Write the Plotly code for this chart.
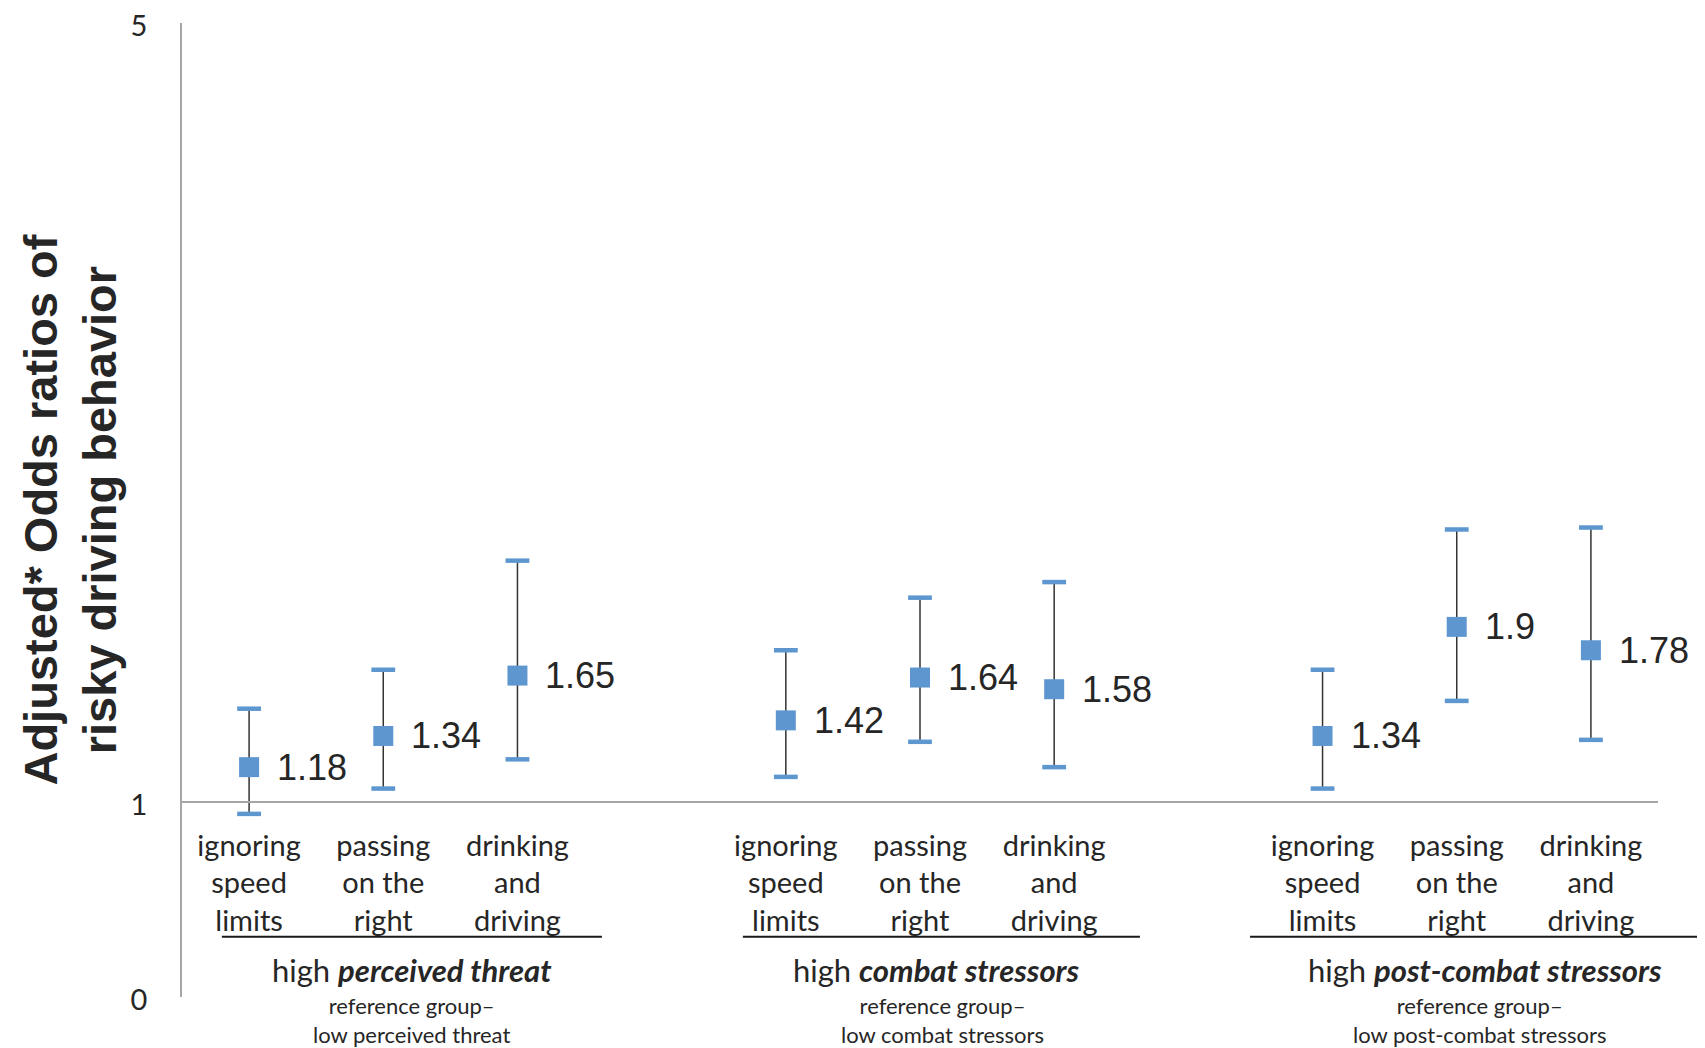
import plotly.graph_objects as go

# ---- data ----
groups = ["perceived threat", "combat stressors", "post-combat stressors"]
behaviors = ["ignoring<br>speed<br>limits", "passing<br>on the<br>right", "drinking<br>and<br>driving"]
odds = [1.18, 1.34, 1.65, 1.42, 1.64, 1.58, 1.34, 1.9, 1.78]
ci_low = [0.94, 1.07, 1.22, 1.13, 1.31, 1.18, 1.07, 1.52, 1.32]
ci_high = [1.48, 1.68, 2.24, 1.78, 2.05, 2.13, 1.68, 2.40, 2.41]
y_ticks = [0, 1, 5]
y_title_lines = ["Adjusted* Odds ratios of", "risky driving behavior"]

BLUE = "#5E97D0"
TXT = "#262626"
CAT_FONT = "Lato"

# category positions: three per group with an empty slot between groups
xpos = [g * 4 + i for g in range(len(groups)) for i in range(len(behaviors))]
ticktext = [b for g in groups for b in behaviors]
err_plus = [h - v for h, v in zip(ci_high, odds)]
err_minus = [v - l for v, l in zip(odds, ci_low)]

fig = go.Figure()
# stems + markers
fig.add_trace(go.Scatter(
    x=xpos, y=odds, mode="markers",
    marker=dict(symbol="square", size=20, color=BLUE),
    error_y=dict(type="data", array=err_plus, arrayminus=err_minus,
                 color="#333333", thickness=1.5, width=0),
    showlegend=False, hoverinfo="skip"))
# caps
fig.add_trace(go.Scatter(
    x=xpos + xpos, y=ci_high + ci_low, mode="markers",
    marker=dict(symbol="line-ew", size=17, line=dict(color=BLUE, width=4.5)),
    showlegend=False, hoverinfo="skip"))

# value labels
for x, v in zip(xpos, odds):
    fig.add_annotation(x=x, y=v, text=str(v), showarrow=False, xanchor="left",
                       xshift=26, font=dict(family="Liberation Sans", size=36, color=TXT))

# group underline / titles (paper coords)
underline_x = [(0.027, 0.2845), (0.380, 0.649), (0.7236, 1.04)]
title_x = [0.1558, 0.5115, 0.8828]
sub_x = [0.1558, 0.515, 0.879]
for g, name in enumerate(groups):
    x0, x1 = underline_x[g]
    fig.add_shape(type="line", xref="paper", yref="paper", x0=x0, x1=x1,
                  y0=0.0619, y1=0.0619, line=dict(color="#1a1a1a", width=2))
    fig.add_annotation(xref="paper", yref="paper", x=title_x[g], y=0.0277,
                       text="high <b><i>" + name + "</i></b>", showarrow=False,
                       xanchor="center", yanchor="middle",
                       font=dict(family=CAT_FONT, size=31, color=TXT))
    fig.add_annotation(xref="paper", yref="paper", x=sub_x[g], y=-0.024,
                       text="reference group–<br>low " + name, showarrow=False,
                       xanchor="center", yanchor="middle",
                       font=dict(family=CAT_FONT, size=22, color=TXT))

# y title (two rotated lines)
for line, xp in zip(y_title_lines, [-0.0965, -0.056]):
    fig.add_annotation(xref="paper", yref="paper", x=xp, y=0.5,
                       text="<b>" + line + "</b>",
                       textangle=-90, showarrow=False, xanchor="center", yanchor="middle",
                       font=dict(family="Liberation Sans", size=47, color=TXT))

# page body has an 8px margin; offset the figure so the plot lands where the reference has it
fig.update_layout(
    width=1689, height=1040,
    margin=dict(l=174, r=39, t=15, b=51, autoexpand=False),
    paper_bgcolor="white", plot_bgcolor="white",
    xaxis=dict(range=[-0.5, 10.5], anchor="free", position=0.2, automargin=False,
               showline=True, linecolor="#A6A6A6", linewidth=1.5,
               tickvals=xpos, ticktext=ticktext, ticks="outside", ticklen=18,
               tickcolor="rgba(0,0,0,0)", showgrid=False, zeroline=False,
               tickfont=dict(family=CAT_FONT, size=29, color=TXT)),
    yaxis=dict(range=[0, 5], tickvals=y_ticks, showline=True, linecolor="#A6A6A6",
               linewidth=1.5, ticks="outside", ticklen=27, tickcolor="rgba(0,0,0,0)",
               showgrid=False, zeroline=False, ticklabeloverflow="allow", automargin=False,
               ticklabelshift=3,
               tickfont=dict(family=CAT_FONT, size=29, color=TXT)),
)
fig.write_html("out.html")
